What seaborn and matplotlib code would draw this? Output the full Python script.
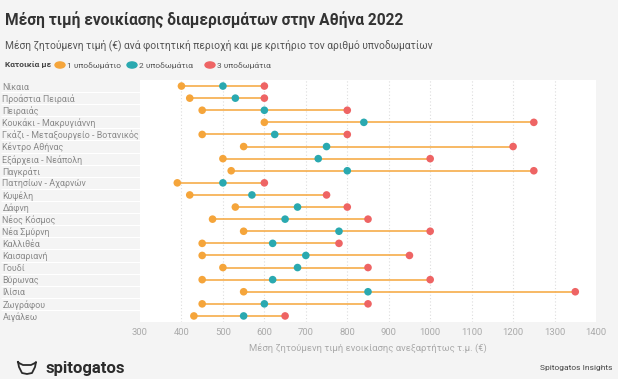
import matplotlib.pyplot as plt
import pandas as pd
import seaborn as sns

regions = ['Νίκαια', 'Προάστια Πειραιά', 'Πειραιάς', 'Κουκάκι - Μακρυγιάννη',
           'Γκάζι - Μεταξουργείο - Βοτανικός', 'Κέντρο Αθήνας', 'Εξάρχεια - Νεάπολη',
           'Παγκράτι', 'Πατησίων - Αχαρνών', 'Κυψέλη', 'Δάφνη', 'Νέος Κόσμος',
           'Νέα Σμύρνη', 'Καλλιθέα', 'Καισαριανή', 'Γουδί', 'Βύρωνας', 'Ιλίσια',
           'Ζωγράφου', 'Αιγάλεω']
one_bed = [400, 420, 450, 600, 450, 550, 500, 520, 390, 420,
           530, 475, 550, 450, 450, 500, 450, 550, 450, 430]
two_bed = [500, 530, 600, 840, 625, 750, 730, 800, 500, 570,
           680, 650, 780, 620, 700, 680, 620, 850, 600, 550]
three_bed = [600, 600, 800, 1250, 800, 1200, 1000, 1250, 600, 750,
             800, 850, 1000, 780, 950, 850, 1000, 1350, 850, 650]
series = ['1 υποδωμάτιο', '2 υποδωμάτια', '3 υποδωμάτια']
colors = ['#f5a53b', '#2aa9b0', '#ee6464']
xticks = [300, 400, 500, 600, 700, 800, 900, 1000, 1100, 1200, 1300, 1400]

df = pd.DataFrame({'region': regions * 3,
                   'price': one_bed + two_bed + three_bed,
                   'type': [s for s in series for _ in regions]})

plt.rcParams['font.family'] = ['Roboto', 'DejaVu Sans']
bg = '#f4f4f4'
fig = plt.figure(figsize=(6.18, 3.79), dpi=100, facecolor=bg)
ax = fig.add_axes([140 / 618, 1 - 322 / 379, 456 / 618, 242 / 379])
ax.set_facecolor('white')

ypos = {r: i for i, r in enumerate(regions)}
df['y'] = df['region'].map(ypos)

# connecting lines from 1-bed to 3-bed
ax.hlines(range(len(regions)), one_bed, three_bed, color='#f5a53b', lw=1.1, zorder=2)
sns.scatterplot(data=df, x='price', y='y', hue='type', palette=colors,
                s=30, linewidth=0, legend=False, ax=ax, zorder=3)

ax.set_xlim(300, 1400)
ax.set_ylim(len(regions) - 0.5, -0.5)
ax.set_xticks(xticks)
ax.set_xticklabels([str(t) for t in xticks], color='#aaaaaa', fontsize=6.8)
ax.set_yticks(range(len(regions)))
ax.set_yticklabels(regions, color='#8a8a8a', fontsize=6.4)
for lab in ax.get_yticklabels():
    lab.set_ha('left')
ax.tick_params(axis='y', length=0, pad=99)
ax.tick_params(axis='x', length=0, pad=4)
for x in xticks[1:-1]:
    ax.axvline(x, color='#dddddd', lw=0.8, ls=(0, (1, 2)), zorder=1)
for s in ax.spines.values():
    s.set_visible(False)
ax.set_xlabel('Μέση ζητούμενη τιμή ενοικίασης ανεξαρτήτως τ.μ. (€)',
              color='#aaaaaa', fontsize=6.8, labelpad=5)
ax.set_ylabel('')

# separators in label panel
ax.hlines([i + 0.5 for i in range(len(regions) - 1)], -0.305, 0,
          transform=ax.get_yaxis_transform(), color='#ffffff', lw=0.8, clip_on=False)

fig.text(5 / 618, 1 - 20 / 379, 'Μέση τιμή ενοικίασης διαμερισμάτων στην Αθήνα 2022',
         fontsize=11.2, fontweight='bold', color='#333333', va='center')
fig.text(5 / 618, 1 - 45 / 379,
         'Μέση ζητούμενη τιμή (€) ανά φοιτητική περιοχή και με κριτήριο τον αριθμό υπνοδωματίων',
         fontsize=7.4, color='#555555', va='center')

# legend
ly = 1 - 65 / 379
fig.text(5 / 618, ly, 'Κατοικία με', fontsize=6, fontweight='bold', color='#444444',
         va='center')
for cx, lbl, c in zip([60, 132, 210], series, colors):
    fig.patches.append(plt.Circle((cx / 618, ly), 5 / 618, transform=fig.transFigure,
                                  color=c, figure=fig))
    fig.text((cx + 7) / 618, ly, lbl, fontsize=6, color='#555555', va='center')

# footer
fig.text(45 / 618, 1 - 368 / 379, 'spitogatos', fontsize=12, fontweight='bold',
         color='#2b2b2b', va='center')
cat_x = [18, 19, 22, 27, 32, 35, 36, 35, 31, 27, 23, 19, 18]
cat_y = [362, 367, 373, 374, 373, 367, 362, 363, 365, 365, 365, 363, 362]
fig.lines.append(plt.Line2D([v / 618 for v in cat_x], [1 - v / 379 for v in cat_y],
                            transform=fig.transFigure, color='#2b2b2b', lw=1.3))
fig.text(612 / 618, 1 - 368 / 379, 'Spitogatos Insights', fontsize=6,
         color='#444444', va='center', ha='right')

plt.savefig('out.png', dpi=100, facecolor=bg)
